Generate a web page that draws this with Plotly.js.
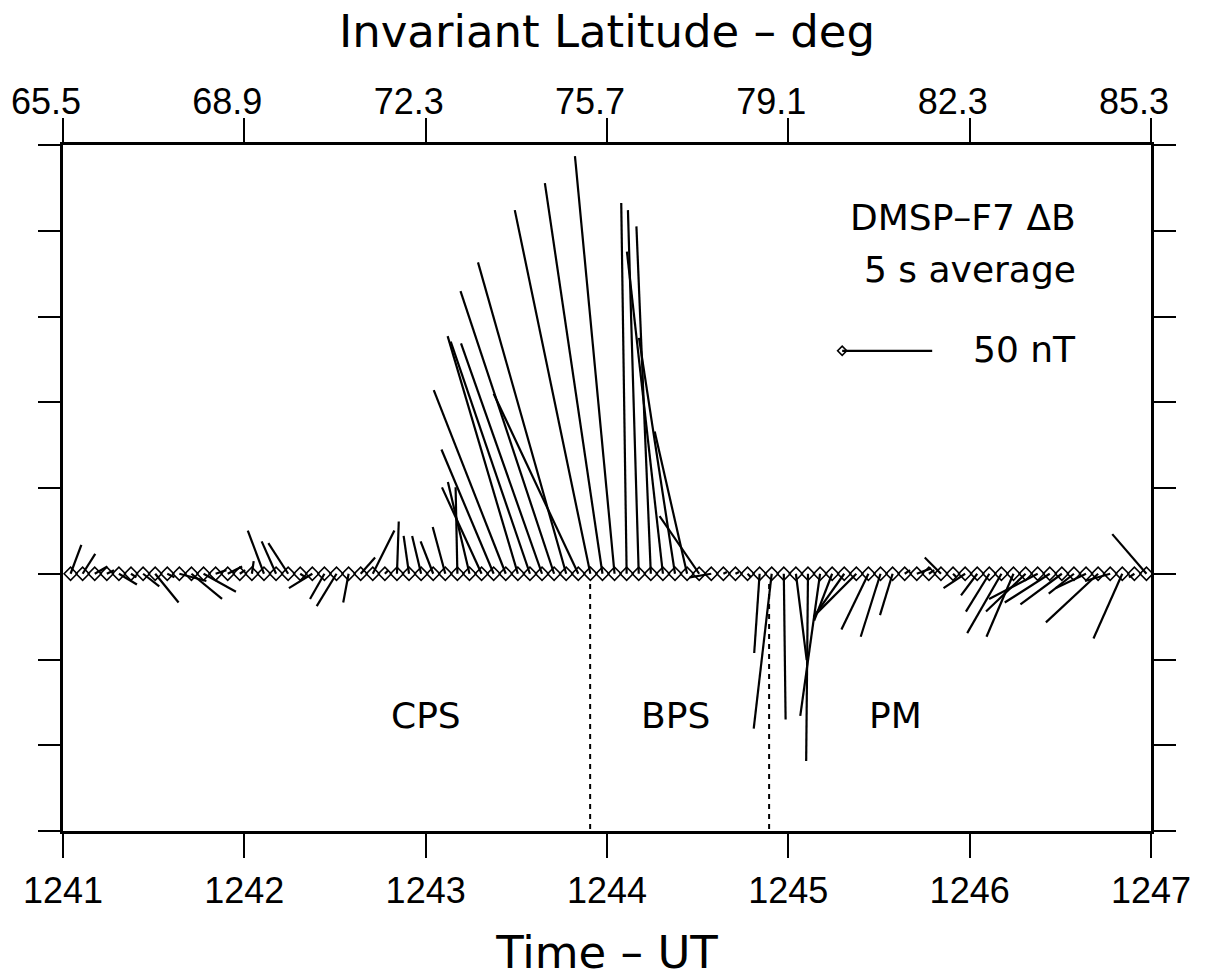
<!DOCTYPE html>
<html><head><meta charset="utf-8">
<script src="https://cdn.plot.ly/plotly-3.0.1.min.js"></script>
<style>html,body{margin:0;padding:0;background:#fff}</style>
</head><body>
<div id="chart" style="width:1210px;height:979px"></div>
<script>
// ---- data ----
// sample times, seconds after 12:41:00 UT
const sampleSeconds = [2.5,6.5,10.5,14.5,18.5,22.5,26.5,30.5,34.5,38.5,42.5,46.5,50.5,54.5,58.5,62.5,66.5,70.5,74.5,78.5,82.5,86.5,90.5,94.5,98.5,102.5,106.5,110.5,114.5,118.5,122.5,126.5,130.5,134.5,138.5,142.5,146.5,150.5,154.5,158.5,162.5,166.5,170.5,174.5,178.5,182.5,186.5,190.5,194.5,198.5,202.5,206.5,210.5,214.5,218.5,222.5,226.5,230.5,234.5,238.5,242.5,246.5,250.5,254.5,258.5,262.5,266.5,270.5,274.5,278.5,282.5,286.5,290.5,294.5,298.5,302.5,306.5,310.5,314.5,318.5,322.5,326.5,330.5,334.5,338.5,342.5,346.5,350.5,354.5,358.5];
// Delta-B components in nT (horizontal component: + to the right; vertical component: + upward)
const dBHoriz = [6,7,7,4,10,3,9,13,4,15,17,18,6,8,3,1,-9,-8,-11,3,-13,-8,-11,-3,8,12,2,1,-3,-5,-7,-7,-1,-12,-22,-29,-40,-39,-44,-45,-52,-49,-47,-42,-32,-22,-3,-6,-8,-20,-20,-18,-22,-12,2,2,2,-3,-10,1,6,-1,-11,-10,-17,-23,-15,-11,-7,3,8,3,-9,2,-12,-9,-13,-19,-15,-22,-27,-25,-23,-14,-17,-29,-14,-16,-3,-19];
const dBVert = [16,11,4,2,-6,-2,-7,-16,-2,-4,-14,-10,2,4,2,7,24,18,17,-2,-8,-14,-18,-16,9,24,2,29,21,21,18,26,48,51,48,69,102,132,129,128,157,173,100,202,217,232,206,202,193,179,131,79,32,-2,1,1,-2,-44,-86,-81,-48,-104,-79,-26,-24,-23,-31,-35,-23,2,3,2,9,-2,-8,-12,-21,-33,-35,-21,-14,-16,-17,-11,-8,-27,-4,-36,-2,22];
const timeTicks = [1241,1242,1243,1244,1245,1246,1247];
const timeTickLabels = ['1241','1242','1243','1244','1245','1246','1247'];
const latitudeTickLabels = ['65.5','68.9','72.3','75.7','79.1','82.3','85.3'];
const regionNames = ['CPS','BPS','PM'];
const regionCenters = [1243.0, 1244.38, 1245.59];
const regionBoundaries = [1243.907, 1244.894];
const scaleBarNT = 50;

// ---- geometry ----
const M = {l:63, r:59, t:145, b:148};
const FW = 1210, FH = 979;
const xRange = [1241, 1247], yRange = [-3, 5];
const plotW = FW - M.l - M.r, plotH = FH - M.t - M.b;
const pxPerMin = plotW / (xRange[1]-xRange[0]);
const pxPerUnit = plotH / (yRange[1]-yRange[0]);
const pxPerNT = 90 / 50;

const baseX = sampleSeconds.map(s => 1241 + s/60);
const sx = [], sy = [];
baseX.forEach((x0, i) => {
  sx.push(x0, x0 + dBHoriz[i]*pxPerNT/pxPerMin, null);
  sy.push(0, dBVert[i]*pxPerNT/pxPerUnit, null);
});

const scaleX0 = 1245.297, scaleY = 2.6;
const traces = [
  {x: sx, y: sy, mode:'lines', line:{color:'#000', width:2.2}, hoverinfo:'skip', xaxis:'x', yaxis:'y'},
  {x: baseX, y: baseX.map(()=>0), mode:'markers', marker:{symbol:'diamond-open', size:10, color:'#000', line:{width:1.6, color:'#000'}}, xaxis:'x', yaxis:'y'},
  {x: [scaleX0, scaleX0 + scaleBarNT*pxPerNT/pxPerMin], y:[scaleY, scaleY], mode:'lines', line:{color:'#000', width:2.2}, xaxis:'x', yaxis:'y'},
  {x: [scaleX0], y:[scaleY], mode:'markers', marker:{symbol:'diamond-open', size:7, color:'#000', line:{width:1.6}}, xaxis:'x', yaxis:'y'},
  {x: [1241, 1247], y:[0,0], mode:'markers', marker:{opacity:0}, xaxis:'x2', yaxis:'y', hoverinfo:'skip'},
  {x: [1241, 1247], y:[0,0], mode:'markers', marker:{opacity:0}, xaxis:'x3', yaxis:'y', hoverinfo:'skip'}
];

const tickFont = {family:'Liberation Sans, Arial, sans-serif', size:36, color:'#000'};
const titleFont = {family:'DejaVu Sans, sans-serif', size:45, color:'#000'};
const annFont = {family:'DejaVu Sans, sans-serif', size:36, color:'#000'};

const shapes = regionBoundaries.map(b => ({type:'line', xref:'x', yref:'y', x0:b, x1:b, y0:-0.12, y1:-3, line:{color:'#000', width:2, dash:'5px,5px'}}));

const annotations = [
  {text:'DMSP\u2013F7 \u0394B', x:1246.6, y:4.15, xanchor:'right', yanchor:'middle', showarrow:false, font:annFont},
  {text:'5 s average', x:1246.6, y:3.55, xanchor:'right', yanchor:'middle', showarrow:false, font:annFont},
  {text:'50 nT', x:1246.6, y:2.62, xanchor:'right', yanchor:'middle', showarrow:false, font:annFont}
];
regionNames.forEach((n, i) => annotations.push({text:n, x:regionCenters[i], y:-1.65, xanchor:'center', yanchor:'middle', showarrow:false, font:annFont}));

const layout = {
  width: FW, height: FH,
  margin: M,
  paper_bgcolor:'#fff', plot_bgcolor:'#fff',
  showlegend:false,
  xaxis: {range:xRange, tickvals:timeTicks, ticktext:timeTickLabels, ticks:'outside', ticklen:24, tickwidth:2, tickcolor:'#000',
          showline:true, linewidth:2.8, linecolor:'#000', showgrid:false, zeroline:false, tickfont:tickFont, ticklabelstandoff:2,
          title:{text:'Time \u2013 UT', font:titleFont, standoff:30}},
  // top frame line with its outward ticks
  xaxis2: {range:xRange, overlaying:'x', side:'top', anchor:'y', tickvals:timeTicks, ticks:'outside', ticklen:24, tickwidth:2, tickcolor:'#000',
          showline:true, linewidth:2.8, linecolor:'#000', showgrid:false, zeroline:false, showticklabels:false},
  // top invariant-latitude labels and title
  xaxis3: {range:xRange, overlaying:'x', side:'top', anchor:'y', tickvals:timeTicks, ticktext:latitudeTickLabels, ticks:'outside', ticklen:16, tickwidth:1,
          tickcolor:'rgba(0,0,0,0)', showline:false, showgrid:false, zeroline:false,
          tickfont:{family:tickFont.family, size:36, color:'#000'}, ticklabelshift:-17,
          title:{text:'Invariant Latitude \u2013 deg', font:titleFont, standoff:18}},
  yaxis: {range:yRange, dtick:1, tick0:0, ticks:'outside', ticklen:22, tickwidth:2, tickcolor:'#000', showticklabels:false,
          showline:true, linewidth:2.8, linecolor:'#000', mirror:'ticks', showgrid:false, zeroline:false},
  shapes, annotations
};

Plotly.newPlot('chart', traces, layout, {staticPlot:true, displayModeBar:false});
</script>
</body></html>
